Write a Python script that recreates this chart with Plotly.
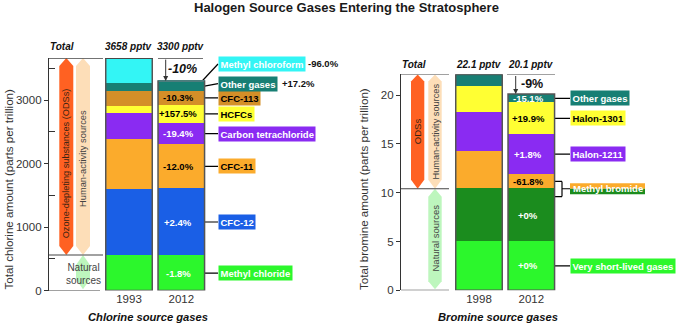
import plotly.graph_objects as go

# ---------------- DATA ----------------
CL_YEARS = ["1993", "2012"]
CL_GASES = ["Methyl chloride", "CFC-12", "CFC-11", "Carbon tetrachloride",
            "HCFCs", "CFC-113", "Other gases", "Methyl chloroform"]
CL_1993 = [559, 1032, 790, 416, 113, 236, 124, 388]
CL_2012 = [550, 1057, 695, 335, 290, 212, 145, 16]
CL_CHANGE = ["-1.8%", "+2.4%", "-12.0%", "-19.4%", "+157.5%", "-10.3%", "+17.2%", "-96.0%"]
CL_TOTAL_LABELS = ["3658 pptv", "3300 pptv"]
CL_TOTAL_CHANGE = "-10%"

BR_YEARS = ["1998", "2012"]
BR_GASES = ["Very short-lived gases", "Methyl bromide (natural)", "Methyl bromide",
            "Halon-1211", "Halon-1301", "Other gases"]
BR_1998 = [5.0, 5.4, 3.8, 4.0, 2.7, 1.2]
BR_2012 = [5.0, 5.4, 1.5, 4.1, 3.2, 0.9]
BR_CHANGE = ["+0%", "+0%", "-61.8%", "+1.8%", "+19.9%", "-15.1%"]
BR_TOTAL_LABELS = ["22.1 pptv", "20.1 pptv"]
BR_TOTAL_CHANGE = "-9%"

# ---------------- STYLE ----------------
W, H = 678, 325
F = "Liberation Sans, Arial, sans-serif"
TXT = "#333333"
CL_COLORS = ["#2CF72C", "#1A5FE6", "#FBAB2C", "#8A2BF2", "#FFFF33", "#D48F28", "#177F74", "#33F5F5"]
CL_LABEL_FONT = ["white", "white", "black", "white", "black", "black", "white", "white"]
CL_IN_FONT = ["white", "white", "black", "white", "black", "black", None, None]
BR_COLORS = ["#2CF72C", "#1B8C1E", "#FBAB2C", "#8A2BF2", "#FFFF33", "#177F74"]
BR_IN_FONT = ["white", "white", "black", "white", "black", "white"]
BR_LABEL_FONT = ["white", None, "white", "white", "black", "white"]


def PX(x):
    return x / W


def PY(y):
    return 1 - y / H


# geometry (pixels)
CL_Y0, CL_YTOP, CL_MAX = 290.5, 58.1, 3660
BR_Y0, BR_MAX = 290.3, 22.1
BR_SC = 9.765
BR_YTOP = BR_Y0 - BR_MAX * BR_SC
CL_SC = (CL_Y0 - CL_YTOP) / CL_MAX
STEP = 52.3
BW = 0.89
CL_C0, BR_C0 = 129.0, 479.0
CL_AX, BR_AX = 49.0, 401.0


def cum_mid(vals):
    mids, tops, s = [], [], 0
    for v in vals:
        mids.append(s + v / 2)
        s += v
        tops.append(s)
    return mids, tops


fig = go.Figure()

for i, g in enumerate(CL_GASES):
    fig.add_bar(x=[0, 1], y=[CL_1993[i], CL_2012[i]], width=BW, name=g,
                marker=dict(color=CL_COLORS[i], line=dict(width=0)),
                xaxis="x", yaxis="y", showlegend=False, hoverinfo="skip")
for i, g in enumerate(BR_GASES):
    fig.add_bar(x=[0, 1], y=[BR_1998[i], BR_2012[i]], width=BW, name=g,
                marker=dict(color=BR_COLORS[i], line=dict(width=0)),
                xaxis="x2", yaxis="y2", showlegend=False, hoverinfo="skip")

cl_mid, cl_top = cum_mid(CL_2012)
br_mid, br_top = cum_mid(BR_2012)

shapes = []
annots = []

# bar outlines
for ax, ay, series in (("x", "y", [CL_1993, CL_2012]), ("x2", "y2", [BR_1998, BR_2012])):
    for j, s in enumerate(series):
        shapes.append(dict(type="rect", xref=ax, yref=ay, x0=j - BW / 2, x1=j + BW / 2,
                           y0=0, y1=sum(s), line=dict(color="#555555", width=1.5),
                           fillcolor="rgba(0,0,0,0)", layer="above"))


def hline(x0, x1, y, yref, w=1.2, color="#444444"):
    shapes.append(dict(type="line", xref="paper", yref=yref, x0=PX(x0), x1=PX(x1),
                       y0=y, y1=y, line=dict(color=color, width=w)))


# header lines / separators
hline(CL_AX, 103, CL_MAX, "y")
hline(105, 153, CL_MAX, "y")
hline(158, 203, CL_MAX, "y")
hline(CL_AX, 103, CL_1993[0], "y")
hline(CL_AX, 100, 0, "y")
hline(BR_AX, 449, BR_MAX, "y2")
hline(455, 503, BR_MAX, "y2")
hline(507, 555, BR_MAX, "y2")
hline(BR_AX, 449, BR_1998[0] + BR_1998[1], "y2")
hline(BR_AX, 449, 0, "y2")


def hexshape(x0, x1, ytop, ybot, dt, db, yref, color):
    xc = (x0 + x1) / 2
    p = (f"M {PX(x0)},{ytop - dt} L {PX(xc)},{ytop} L {PX(x1)},{ytop - dt} "
         f"L {PX(x1)},{ybot + db} L {PX(xc)},{ybot} L {PX(x0)},{ybot + db} Z")
    shapes.append(dict(type="path", path=p, xref="paper", yref=yref,
                       fillcolor=color, line=dict(width=0), layer="below"))


ORANGE, TAN, LGREEN = "#FF6122", "#FDDEB8", "#BDF6BD"
cl_nat = CL_1993[0]
hexshape(59.3, 73.3, CL_MAX, cl_nat, 8 / CL_SC, 9 / CL_SC, "y", ORANGE)
hexshape(76, 90, CL_MAX, cl_nat, 8 / CL_SC, 9 / CL_SC, "y", TAN)
hexshape(76, 90, cl_nat, 20, 10 / CL_SC, 10 / CL_SC, "y", LGREEN)
br_nat = BR_1998[0] + BR_1998[1]
hexshape(411, 424.3, BR_MAX, br_nat, 7 / BR_SC, 9 / BR_SC, "y2", ORANGE)
hexshape(428.3, 441.7, BR_MAX, br_nat, 7 / BR_SC, 9 / BR_SC, "y2", TAN)
hexshape(428.3, 441.7, br_nat, 0.1, 8 / BR_SC, 8 / BR_SC, "y2", LGREEN)


def ann(x, y, text, size=10, color=TXT, xanchor="center", yanchor="middle", angle=0, **kw):
    d = dict(x=x, y=y, xref="paper", yref="paper", text=text, showarrow=False,
             font=dict(family=F, size=size, color=color), xanchor=xanchor,
             yanchor=yanchor, textangle=angle)
    d.update(kw)
    annots.append(d)


# title & axis titles
ann(PX(346.7), PY(8), "<b>Halogen Source Gases Entering the Stratosphere</b>", 13, "#1a1a1a")
ann(PX(8), PY(189.5), "Total chlorine amount (parts per trillion)", 11.6, TXT, angle=-90)
ann(PX(363), PY(189), "Total bromine amount (parts per trillion)", 11.6, TXT, angle=-90)
ann(PX(148.3), PY(316.7), "<b><i>Chlorine source gases</i></b>", 11.2, "#111111")
ann(PX(498.3), PY(316.7), "<b><i>Bromine source gases</i></b>", 11.2, "#111111")

# headers
ann(PX(62), PY(46.7), "<b><i>Total</i></b>", 10, "#111111")
ann(PX(CL_C0), PY(46.7), f"<b><i>{CL_TOTAL_LABELS[0]}</i></b>", 10, "#111111")
ann(PX(CL_C0 + STEP), PY(46.7), f"<b><i>{CL_TOTAL_LABELS[1]}</i></b>", 10, "#111111")
ann(PX(413.5), PY(64.3), "<b><i>Total</i></b>", 10, "#111111")
ann(PX(BR_C0), PY(64.3), f"<b><i>{BR_TOTAL_LABELS[0]}</i></b>", 10, "#111111")
ann(PX(BR_C0 + STEP), PY(64.3), f"<b><i>{BR_TOTAL_LABELS[1]}</i></b>", 10, "#111111")

# total-change arrows
cl_tot = [sum(CL_1993), sum(CL_2012)]
br_tot = [sum(BR_1998), sum(BR_2012)]
annots.append(dict(x=PX(165.7), y=cl_tot[1], xref="paper", yref="y", ax=0,
                   ay=-(CL_MAX - cl_tot[1]) * CL_SC, showarrow=True, arrowhead=2,
                   arrowsize=1, arrowwidth=1, arrowcolor="#333", text="", standoff=0))
annots.append(dict(x=PX(515.7), y=br_tot[1], xref="paper", yref="y2", ax=0,
                   ay=-(BR_MAX - br_tot[1]) * BR_SC, showarrow=True, arrowhead=2,
                   arrowsize=1, arrowwidth=1, arrowcolor="#333", text="", standoff=0))
ann(PX(183), PY(69.3), f"<b><i>{CL_TOTAL_CHANGE}</i></b>", 12.5, "#111111")
ann(PX(532), PY(84), f"<b>{BR_TOTAL_CHANGE}</b>", 12.5, "#111111")

# arrow texts
ann(PX(66.3), PY(163), "Ozone-depleting substances (ODSs)", 9.2, "#3a2413", angle=-90)
ann(PX(83), PY(159), "Human-activity sources", 9.3, "#444444", angle=-90)
ann(PX(83), PY(274), "Natural<br>sources", 10, "#444444")
ann(PX(417.7), PY(131.5), "ODSs", 9.5, "#3a2413", angle=-90)
ann(PX(435), PY(131.5), "Human-activity sources", 9.2, "#444444", angle=-90)
ann(PX(435), PY(238.5), "Natural sources", 9.5, "#444444", angle=-90)

# ---- chlorine labels ----
CL_DOT = (201.7 - CL_C0) / STEP
CL_LBL_X = 218
CL_SHIFT = {"Methyl chloroform": 17.5, "Other gases": 3.0}
CL_EXTRA_X = {"Methyl chloroform": 306, "Other gases": 280}
for i, g in enumerate(CL_GASES):
    ly = cl_mid[i] + CL_SHIFT.get(g, 0) / CL_SC
    shapes.append(dict(type="line", xref="paper", yref="y", x0=PX(201.7), x1=PX(CL_LBL_X),
                       y0=cl_mid[i], y1=ly, line=dict(color="black", width=1.2), layer="below"))
    annots.append(dict(x=PX(CL_LBL_X), y=ly, xref="paper", yref="y", text=f"<b>{g}</b>",
                       showarrow=False, xanchor="left", yanchor="middle",
                       bgcolor=CL_COLORS[i], borderpad=1.5,
                       font=dict(family=F, size=9.5, color=CL_LABEL_FONT[i])))
    if g in CL_EXTRA_X:
        annots.append(dict(x=PX(CL_EXTRA_X[g]), y=ly, xref="paper", yref="y",
                           text=f"<b>{CL_CHANGE[i]}</b>", showarrow=False, xanchor="left",
                           font=dict(family=F, size=9.5, color="#111111")))
    else:
        annots.append(dict(x=1, y=cl_mid[i], xref="x", yref="y", xshift=-3, xanchor="center",
                           text=f"<b>{CL_CHANGE[i]}</b>", showarrow=False,
                           font=dict(family=F, size=9.5, color=CL_IN_FONT[i])))
fig.add_scatter(x=[1 + CL_DOT] * len(cl_mid), y=cl_mid, mode="markers", xaxis="x", yaxis="y",
                marker=dict(size=6.5, color="black", line=dict(color="white", width=1)),
                showlegend=False, hoverinfo="skip", cliponaxis=False)

# ---- bromine labels ----
BR_DOT = (551 - BR_C0) / STEP
BR_LBL_X = 570
br_dots = []
for i, g in enumerate(BR_GASES):
    annots.append(dict(x=1, y=br_mid[i], xref="x2", yref="y2", xshift=-3, xanchor="center",
                       text=f"<b>{BR_CHANGE[i]}</b>", showarrow=False,
                       font=dict(family=F, size=9.5, color=BR_IN_FONT[i])))
    if g in ("Methyl bromide (natural)", "Methyl bromide"):
        continue
    br_dots.append(br_mid[i])
    shapes.append(dict(type="line", xref="paper", yref="y2", x0=PX(551), x1=PX(BR_LBL_X),
                       y0=br_mid[i], y1=br_mid[i], line=dict(color="black", width=1.2), layer="below"))
    annots.append(dict(x=PX(BR_LBL_X), y=br_mid[i], xref="paper", yref="y2", text=f"<b>{g}</b>",
                       showarrow=False, xanchor="left", yanchor="middle",
                       bgcolor=BR_COLORS[i], borderpad=1.5,
                       font=dict(family=F, size=9.5, color=BR_LABEL_FONT[i])))

# methyl bromide bracket (anthropogenic + natural)
mb_a = br_mid[2]
mb_n = br_top[1] - 0.8
mb_y = br_top[1]
for (xa, ya, xb, yb) in ((551, mb_a, 562, mb_a), (562, mb_a, 562, mb_n),
                         (562, mb_n, 551, mb_n), (562, mb_y, BR_LBL_X, mb_y)):
    shapes.append(dict(type="line", xref="paper", yref="y2", x0=PX(xa), x1=PX(xb),
                       y0=ya, y1=yb, line=dict(color="black", width=1.2), layer="below"))
br_dots += [mb_a, mb_n]
hh = 5.4 / BR_SC
shapes.append(dict(type="rect", xref="paper", yref="y2", x0=PX(BR_LBL_X), x1=PX(645),
                   y0=mb_y, y1=mb_y + hh, fillcolor=BR_COLORS[2], line=dict(width=0)))
shapes.append(dict(type="rect", xref="paper", yref="y2", x0=PX(BR_LBL_X), x1=PX(645),
                   y0=mb_y - hh, y1=mb_y, fillcolor=BR_COLORS[1], line=dict(width=0)))
annots.append(dict(x=PX((BR_LBL_X + 645) / 2), y=mb_y, xref="paper", yref="y2",
                   xanchor="center", yanchor="middle",
                   text="<b>Methyl bromide</b>", showarrow=False,
                   font=dict(family=F, size=9.5, color="white")))
fig.add_scatter(x=[1 + BR_DOT] * len(br_dots), y=br_dots, mode="markers", xaxis="x2", yaxis="y2",
                marker=dict(size=6.5, color="black", line=dict(color="white", width=1)),
                showlegend=False, hoverinfo="skip", cliponaxis=False)

axis_common = dict(showgrid=False, zeroline=False, automargin=False, fixedrange=True)
fig.update_layout(
    width=W, height=H, margin=dict(l=0, r=0, t=0, b=0),
    paper_bgcolor="white", plot_bgcolor="rgba(0,0,0,0)",
    barmode="stack", bargap=0, hovermode=False, showlegend=False,
    font=dict(family=F, color=TXT),
    xaxis=dict(domain=[PX(CL_AX), PX(230)],
               range=[(CL_AX - CL_C0) / STEP, (230 - CL_C0) / STEP],
               tickvals=[0, 1], ticktext=CL_YEARS, ticks="", showline=False,
               tickfont=dict(family=F, size=11.5, color=TXT), anchor="y", **axis_common),
    yaxis=dict(domain=[PY(CL_Y0), PY(CL_YTOP)], range=[0, CL_MAX],
               tickvals=[0, 1000, 2000, 3000], ticks="outside", ticklen=4,
               tickcolor="#333", showline=True, linecolor="#333", linewidth=1.3,
               minor=dict(tickvals=[500, 1500, 2500, 3500], ticks="inside", ticklen=6,
                          tickcolor="#333"),
               tickfont=dict(family=F, size=11.5, color=TXT), anchor="x", **axis_common),
    xaxis2=dict(domain=[PX(BR_AX), PX(600)],
                range=[(BR_AX - BR_C0) / STEP, (600 - BR_C0) / STEP],
                tickvals=[0, 1], ticktext=BR_YEARS, ticks="", showline=False,
                tickfont=dict(family=F, size=11.5, color=TXT), anchor="y2", **axis_common),
    yaxis2=dict(domain=[PY(BR_Y0), PY(BR_YTOP)], range=[0, BR_MAX],
                tickvals=[0, 5, 10, 15, 20], ticks="outside", ticklen=4,
                tickcolor="#333", showline=True, linecolor="#333", linewidth=1.3,
                tickfont=dict(family=F, size=11.5, color=TXT), anchor="x2", **axis_common),
    shapes=shapes, annotations=annots,
)

fig.write_html("out.html")
